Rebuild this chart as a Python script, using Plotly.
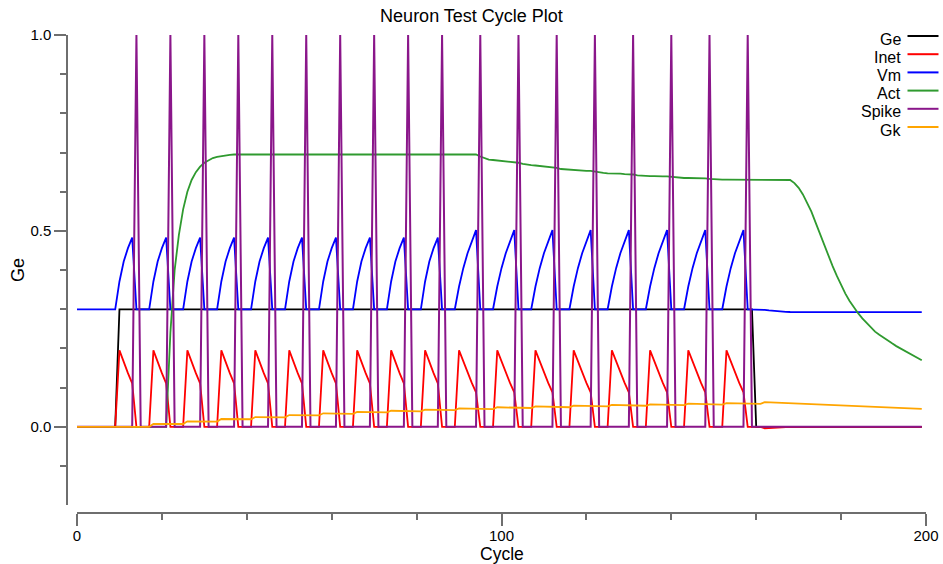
import plotly.graph_objects as go

# ---------------- data ----------------
cycles = list(range(200))

ge_level = 0.3
ge_on, ge_off = 10, 160

spike_cycles = [14, 22, 30, 38, 46, 54, 62, 70, 78, 86,
                95, 104, 113, 122, 131, 140, 149, 158]

vm_rest = 0.3
vm_rise_4 = [0.371, 0.422, 0.456, 0.483]
vm_rise_5 = [0.358, 0.405, 0.443, 0.473, 0.502]
vm_after_off = [0.2985, 0.297, 0.2958, 0.2948, 0.294, 0.2934, 0.293, 0.2927] + [0.2925] * 30
vm_after_off_start = 162

inet_rise_4 = [0.195, 0.163, 0.137, 0.111]
inet_rise_5 = [0.195, 0.166, 0.138, 0.112, 0.088]
inet_after_off = [-0.004, -0.003, -0.0025, -0.002, -0.0015, -0.001, -0.0007, -0.0004]

act_rise = [0.24, 0.40, 0.49, 0.555, 0.60, 0.630, 0.650, 0.664,
            0.674, 0.681, 0.686, 0.689, 0.691, 0.693, 0.694, 0.695]      # cycles 22..37
act_plateau = 0.695                                                       # cycles 38..94
act_mid = [0.690, 0.685, 0.682, 0.681, 0.680, 0.679, 0.678, 0.677, 0.676,
           0.674, 0.671, 0.669, 0.668, 0.667, 0.666, 0.665, 0.664, 0.663,
           0.661, 0.658, 0.657, 0.656, 0.655, 0.655, 0.654, 0.653, 0.653,
           0.651, 0.649, 0.648, 0.647, 0.647, 0.646, 0.646, 0.645, 0.645,
           0.644, 0.642, 0.641, 0.641, 0.640, 0.640, 0.639, 0.639, 0.639,
           0.638, 0.636, 0.636, 0.635, 0.635, 0.635, 0.634, 0.634, 0.634,
           0.633, 0.632, 0.632, 0.631, 0.631, 0.631, 0.631, 0.630, 0.630, 0.630]  # 95..158
act_hold = 0.630                                                          # 159..167
act_fall = [0.630, 0.622, 0.610, 0.593, 0.573, 0.549, 0.521, 0.492, 0.463, 0.436,
            0.410, 0.385, 0.362, 0.340, 0.321, 0.304, 0.290, 0.277, 0.265, 0.253,
            0.243, 0.235, 0.227, 0.220, 0.213, 0.206, 0.200, 0.194, 0.188, 0.182,
            0.176, 0.170]                                                 # 168..199

gk_peak = [0.0075, 0.014, 0.020, 0.025, 0.030, 0.0345, 0.038, 0.041, 0.044,
           0.047, 0.050, 0.052, 0.054, 0.056, 0.0575, 0.059, 0.0605, 0.063]
gk_before = [0.0, 0.0072, 0.0135, 0.0193, 0.0241, 0.0290, 0.0333, 0.0367, 0.0396,
             0.0425, 0.0452, 0.0480, 0.0500, 0.0520, 0.0538, 0.0555, 0.0568, 0.0587]
gk_final = 0.046
gk_delay = 4

series_names = ["Ge", "Inet", "Vm", "Act", "Spike", "Gk"]
series_colors = ["#000000", "#ff0000", "#0000ff", "#2f9a2f", "#8a168a", "#ffa500"]

# ---------------- assemble series ----------------
n = len(cycles)
ge = [ge_level if ge_on <= c < ge_off else 0.0 for c in cycles]
spike = [1.0 if c in spike_cycles else 0.0 for c in cycles]

vm = [vm_rest] * n
inet = [0.0] * n
prev = ge_on - 4
for s in spike_cycles:
    start = prev + 4
    steps = s - start
    vr = vm_rise_4 if steps == 4 else vm_rise_5
    ir = inet_rise_4 if steps == 4 else inet_rise_5
    for i in range(steps):
        vm[start + i] = vr[i]
        inet[start + i] = ir[i]
    prev = s
for i, v in enumerate(vm_after_off):
    vm[vm_after_off_start + i] = v
for i, v in enumerate(inet_after_off):
    inet[vm_after_off_start + i] = v

act = [0.0] * 22 + act_rise + [act_plateau] * 57 + act_mid + [act_hold] * 9 + act_fall

gk_x, gk_y = [cycles[0]], [0.0]
for k, s in enumerate(spike_cycles):
    t = s + gk_delay
    gk_x += [t - 1, t]
    gk_y += [gk_before[k], gk_peak[k]]
gk_x.append(cycles[-1])
gk_y.append(gk_final)

# ---------------- figure ----------------
W, H = 943, 564
ML, MR, MT, MB = 67, 17, 35, 51
PW, PH = W - ML - MR, H - MT - MB
FONT = "Liberation Sans, Arial, Helvetica, sans-serif"
AXC = "#6e6e6e"

fig = go.Figure()
ys = [ge, inet, vm, act, spike, None]
for name, y, col in zip(series_names, ys, series_colors):
    if name == "Gk":
        x, y = gk_x, gk_y
    else:
        x = cycles
    fig.add_trace(go.Scatter(x=x, y=y, mode="lines", name=name,
                             line=dict(color=col, width=2.0 if name == "Spike" else 1.8),
                             showlegend=False, hoverinfo="skip"))

# legend on the right with text right-aligned and line sample after it
text_x = (902 - ML) / PW
line_x0 = (907.5 - ML) / PW
line_x1 = (938.5 - ML) / PW
for i, (name, col) in enumerate(zip(series_names, series_colors)):
    ly = 36 + 18.2 * i
    yp = (H - MB - ly) / PH
    fig.add_shape(type="line", xref="paper", yref="paper",
                  x0=line_x0, x1=line_x1, y0=yp, y1=yp,
                  line=dict(color=col, width=2))
    fig.add_annotation(xref="paper", yref="paper", x=text_x, y=(H - MB - ly - 3) / PH,
                       xanchor="right", yanchor="middle", text=name, showarrow=False,
                       borderpad=0,
                       font=dict(size=16, color="black", family=FONT))

# x-axis title placed as centred text under the axis
fig.add_annotation(xref="paper", yref="paper", x=(10 / PW + 1) / 2, y=-(554 - (H - MB)) / PH,
                   xanchor="center", yanchor="middle", text="Cycle", showarrow=False,
                   borderpad=0, font=dict(size=17.5, color="black", family=FONT))

fig.update_layout(
    width=W, height=H,
    margin=dict(l=ML, r=MR, t=MT, b=MB, pad=0, autoexpand=False),
    paper_bgcolor="white", plot_bgcolor="white",
    font=dict(family=FONT, color="black"),
    title=dict(text="Neuron Test Cycle Plot", x=0.5, xref="container", xanchor="center",
               y=1 - 16 / H, yref="container", yanchor="middle",
               font=dict(size=18, color="black", family=FONT)),
    xaxis=dict(domain=[10 / PW, 1], range=[0, 200], anchor="free", position=0,
               automargin=False,
               showline=True, linecolor=AXC, linewidth=1.5, showgrid=False, zeroline=False,
               ticks="outside", ticklen=12, tickwidth=1.5, tickcolor=AXC,
               tick0=0, dtick=100, tickfont=dict(size=15, color="black"),
               ticklabelstandoff=-3,
               minor=dict(dtick=20, ticks="outside", ticklen=6, tickwidth=1.5,
                          tickcolor=AXC, showgrid=False)),
    yaxis=dict(domain=[8 / PH, 1], range=[-0.1995, 1.0], anchor="free", position=0,
               automargin=False,
               showline=True, linecolor=AXC, linewidth=1.5, showgrid=False, zeroline=False,
               ticks="outside", ticklen=12, tickwidth=1.5, tickcolor=AXC,
               tick0=0, dtick=0.5, tickformat=".1f", tickfont=dict(size=15, color="black"),
               minor=dict(dtick=0.1, ticks="outside", ticklen=6, tickwidth=1.5,
                          tickcolor=AXC, showgrid=False),
               title=dict(text="Ge", font=dict(size=18, color="black"), standoff=0)),
)

fig.write_html("out.html")
